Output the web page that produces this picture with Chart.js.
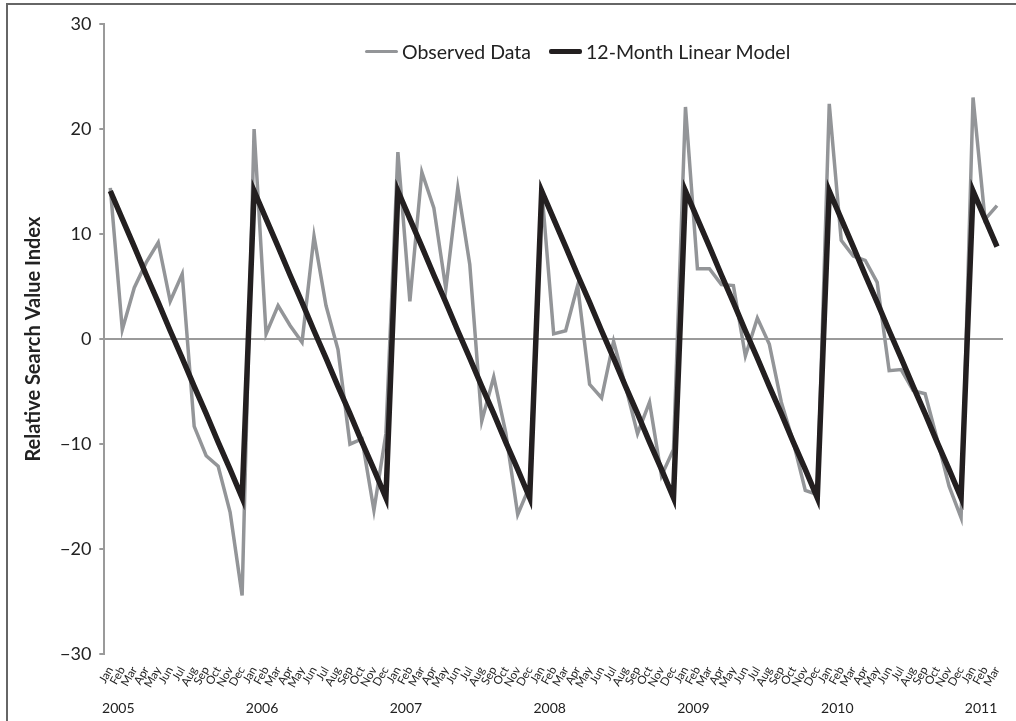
<!DOCTYPE html>
<html>
<head>
<meta charset="utf-8">
<script src="https://cdn.jsdelivr.net/npm/chart.js@4.4.1/dist/chart.umd.min.js"></script>
<style>
  html, body { margin: 0; padding: 0; background: #fff; }
  #wrap { position: relative; width: 1016px; height: 721px; overflow: hidden; }
  #frame { position: absolute; left: 6px; top: 3px; right: -4px; bottom: -4px;
           border-left: 2px solid #666; border-top: 2px solid #666; pointer-events: none; }
  #legend { position: absolute; left: 365px; top: 40px; display: flex; align-items: center;
            font-family: Lato, "Open Sans", sans-serif; font-size: 19.5px; color: #222; }
  #legend .item { display: flex; align-items: center; margin-right: 18px; }
  #legend .swatch { width: 33px; margin-right: 4px; border-radius: 2px; }
</style>
</head>
<body>
<div id="wrap">
  <canvas id="trendChart" width="1016" height="721"></canvas>
  <div id="frame"></div>
  <div id="legend"></div>
</div>
<script>
  // Categorias: meses de Jan 2005 a Mar 2011
  const months = ['Jan', 'Feb', 'Mar', 'Apr', 'May', 'Jun', 'Jul', 'Aug', 'Sep', 'Oct', 'Nov', 'Dec'];
  const years = ['2005', '2006', '2007', '2008', '2009', '2010', '2011'];
  const monthCount = 75;

  const observed = [
    14.4, 0.9, 4.9, 7.3, 9.2, 3.6, 6.2, -8.3, -11.1, -12.1, -16.5, -24.4,
    20.0, 0.5, 3.2, 1.3, -0.3, 9.8, 3.2, -1.0, -10.0, -9.5, -16.3, -9.0,
    17.8, 3.6, 15.9, 12.5, 4.8, 14.4, 7.1, -7.8, -3.6, -8.9, -16.7, -14.0,
    14.3, 0.5, 0.8, 5.1, -4.3, -5.6, -0.2, -4.5, -9.0, -6.0, -13.0, -10.5,
    22.1, 6.7, 6.7, 5.2, 5.1, -1.6, 2.0, -0.5, -6.0, -9.8, -14.4, -14.8,
    22.4, 9.4, 7.9, 7.5, 5.4, -3.0, -2.9, -4.9, -5.2, -9.5, -14.0, -17.0,
    23.0, 11.4, 12.7
  ];

  // Modelo linear de 12 meses
  const model = [
    14.1, 11.45, 8.8, 6.1, 3.5, 0.8, -1.8, -4.5, -7.1, -9.8, -12.4, -15.1,
    14.1, 11.45, 8.8, 6.1, 3.5, 0.8, -1.8, -4.5, -7.1, -9.8, -12.4, -15.1,
    14.1, 11.45, 8.8, 6.1, 3.5, 0.8, -1.8, -4.5, -7.1, -9.8, -12.4, -15.1,
    14.1, 11.45, 8.8, 6.1, 3.5, 0.8, -1.8, -4.5, -7.1, -9.8, -12.4, -15.1,
    14.1, 11.45, 8.8, 6.1, 3.5, 0.8, -1.8, -4.5, -7.1, -9.8, -12.4, -15.1,
    14.1, 11.45, 8.8, 6.1, 3.5, 0.8, -1.8, -4.5, -7.1, -9.8, -12.4, -15.1,
    14.1, 11.45, 8.8
  ];

  const yTicks = [-30, -20, -10, 0, 10, 20, 30];

  const monthLabels = [];
  const yearLabels = [];
  for (let i = 0; i < monthCount; i++) {
    monthLabels.push(months[i % 12]);
    yearLabels.push(i % 12 === 0 ? years[i / 12] : '');
  }

  const fontFamily = 'Lato, "Open Sans", sans-serif';
  const axisGray = '#9a9a9a';

  const trendData = {
    labels: monthLabels,
    datasets: [{
      label: 'Observed Data',
      data: observed,
      borderColor: '#939598',
      borderWidth: 3.5,
      order: 2
    }, {
      label: '12-Month Linear Model',
      data: model,
      borderColor: '#231f20',
      borderWidth: 5.5,
      order: 1
    }]
  };

  const trendConfig = {
    type: 'line',
    data: trendData,
    options: {
      responsive: false,
      animation: false,
      layout: { padding: { left: 22, right: 13, top: 24, bottom: 4 } },
      elements: {
        point: { radius: 0 },
        line: { tension: 0, borderJoinStyle: 'miter', borderCapStyle: 'butt' }
      },
      plugins: {
        legend: { display: false },
        tooltip: { enabled: false }
      },
      scales: {
        x: {
          type: 'category',
          offset: true,
          grid: { display: false },
          border: { display: false },
          ticks: {
            autoSkip: false,
            minRotation: 60,
            maxRotation: 60,
            padding: 2,
            color: '#222',
            font: { family: fontFamily, size: 11.5 }
          }
        },
        year: {
          type: 'category',
          labels: yearLabels,
          position: 'bottom',
          offset: true,
          grid: { display: false },
          border: { display: false },
          ticks: {
            autoSkip: false,
            maxRotation: 0,
            minRotation: 0,
            labelOffset: 8,
            padding: 0,
            color: '#222',
            font: { family: fontFamily, size: 14 }
          }
        },
        y: {
          min: -30,
          max: 30,
          afterBuildTicks: (axis) => { axis.ticks = yTicks.map(v => ({ value: v })); },
          grid: {
            color: (ctx) => ctx.tick && ctx.tick.value === 0 ? axisGray : 'rgba(0,0,0,0)',
            lineWidth: 2,
            tickColor: axisGray,
            tickLength: 5,
            drawOnChartArea: true
          },
          border: { display: true, color: axisGray, width: 2 },
          title: {
            display: true,
            text: 'Relative Search Value Index',
            color: '#222',
            font: { family: fontFamily, size: 20, weight: 'bold' },
            padding: { top: 0, bottom: 6 }
          },
          ticks: {
            padding: 8,
            color: '#222',
            font: { family: fontFamily, size: 18 },
            callback: (v) => (v < 0 ? '\u2212' + Math.abs(v) : String(v))
          }
        }
      }
    }
  };

  // Criação do gráfico
  const trendCanvas = document.getElementById('trendChart');
  const trendChart = new Chart(trendCanvas, trendConfig);

  // Legenda em HTML sobre a área do gráfico
  const legendBox = document.getElementById('legend');
  trendChart.data.datasets.forEach((ds) => {
    const item = document.createElement('div');
    item.className = 'item';
    const sw = document.createElement('span');
    sw.className = 'swatch';
    sw.style.height = ds.borderWidth + 'px';
    sw.style.background = ds.borderColor;
    const txt = document.createElement('span');
    txt.textContent = ds.label;
    item.appendChild(sw);
    item.appendChild(txt);
    legendBox.appendChild(item);
  });
</script>
</body>
</html>
